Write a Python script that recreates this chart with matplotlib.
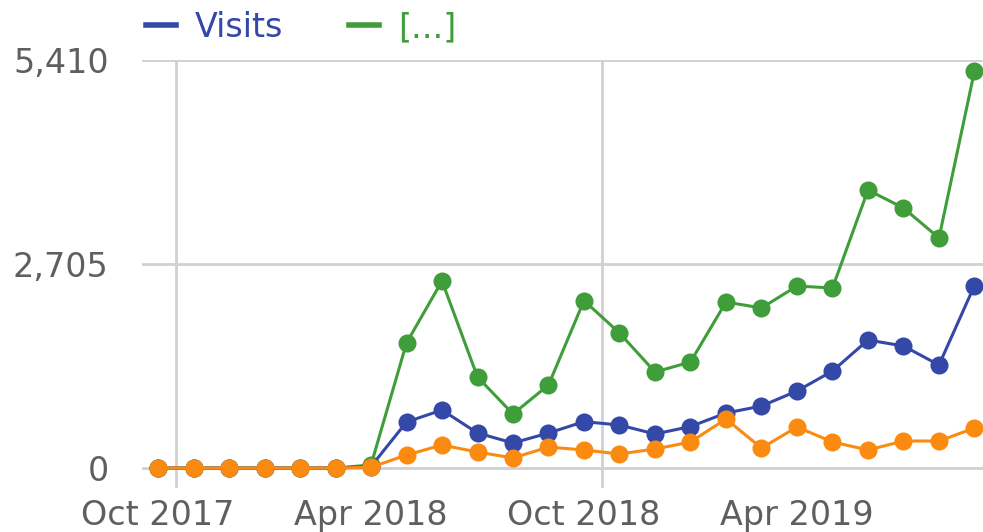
import matplotlib
matplotlib.use("Agg")
import matplotlib.pyplot as plt
from matplotlib.lines import Line2D

# --- Data ---

MONTHS = ["Oct 2017", "Nov 2017", "Dec 2017", "Jan 2018", "Feb 2018", "Mar 2018",
          "Apr 2018", "May 2018", "Jun 2018", "Jul 2018", "Aug 2018", "Sep 2018",
          "Oct 2018", "Nov 2018", "Dec 2018", "Jan 2019", "Feb 2019", "Mar 2019",
          "Apr 2019", "May 2019", "Jun 2019", "Jul 2019", "Aug 2019", "Sep 2019"]

OTHER = [0, 0, 0, 0, 0, 0, 40, 1658, 2480, 1207, 716, 1101,
         2220, 1790, 1273, 1406, 2201, 2122, 2413, 2387, 3686, 3448, 3050, 5264]
VISITS = [0, 0, 0, 0, 0, 0, 20, 610, 769, 464, 332, 464,
          615, 570, 451, 550, 729, 822, 1021, 1286, 1697, 1618, 1366, 2420]
THIRD = [0, 0, 0, 0, 0, 0, 10, 172, 305, 212, 133, 278,
         239, 186, 252, 345, 650, 265, 544, 345, 239, 358, 358, 530]

Y_TICKS = [0, 2705, 5410]
X_LABEL_IDX = [0, 6, 12, 18]

BLUE = "#3448a8"
GREEN = "#3f9e3a"
ORANGE = "#fb8a10"
GREY_TXT = "#5f5f5f"
GRID = "#d0d0d0"

# --- Plot ---

fig = plt.figure(figsize=(9.83, 5.32), dpi=100)
ax = fig.add_axes([0.1445, 0.0827, 0.8555, 0.8045])

x = list(range(len(MONTHS)))
for vals, color in [(OTHER, GREEN), (VISITS, BLUE), (THIRD, ORANGE)]:
    ax.plot(x, vals, color=color, lw=2.2, marker="o", ms=13,
            markeredgewidth=0, clip_on=False, zorder=3)

ax.set_xlim(-0.45, 23.24)
ax.set_ylim(-265, 5410)

ax.set_yticks(Y_TICKS)
ax.set_yticklabels([f"{v:,}" for v in Y_TICKS])
ax.set_xticks(X_LABEL_IDX)
ax.set_xticklabels([MONTHS[i] for i in X_LABEL_IDX])
ax.tick_params(axis="both", length=0, labelsize=24, labelcolor=GREY_TXT)
ax.tick_params(axis="y", pad=24)
ax.tick_params(axis="x", pad=8)
ax.get_yticklabels()[-1].set_y(5410)
for lbl in ax.get_yticklabels():
    lbl.set_verticalalignment("center_baseline")

for v in Y_TICKS:
    ax.axhline(v, color=GRID, lw=2, zorder=1)
for v in [0.5, 12.5]:
    ax.axvline(v, color=GRID, lw=2, zorder=1)

for s in ax.spines.values():
    s.set_visible(False)

handles = [Line2D([], [], color=BLUE, lw=4), Line2D([], [], color=GREEN, lw=4)]
leg = fig.legend(handles, ["Visits", "[...]"], loc="center left",
                 bbox_to_anchor=(0.118, 0.948), ncol=2, frameon=False,
                 fontsize=24, handlelength=0.9, handletextpad=0.55,
                 columnspacing=2.0)
for t, c in zip(leg.get_texts(), [BLUE, GREEN]):
    t.set_color(c)

fig.savefig("out.png", dpi=100, facecolor="white")
